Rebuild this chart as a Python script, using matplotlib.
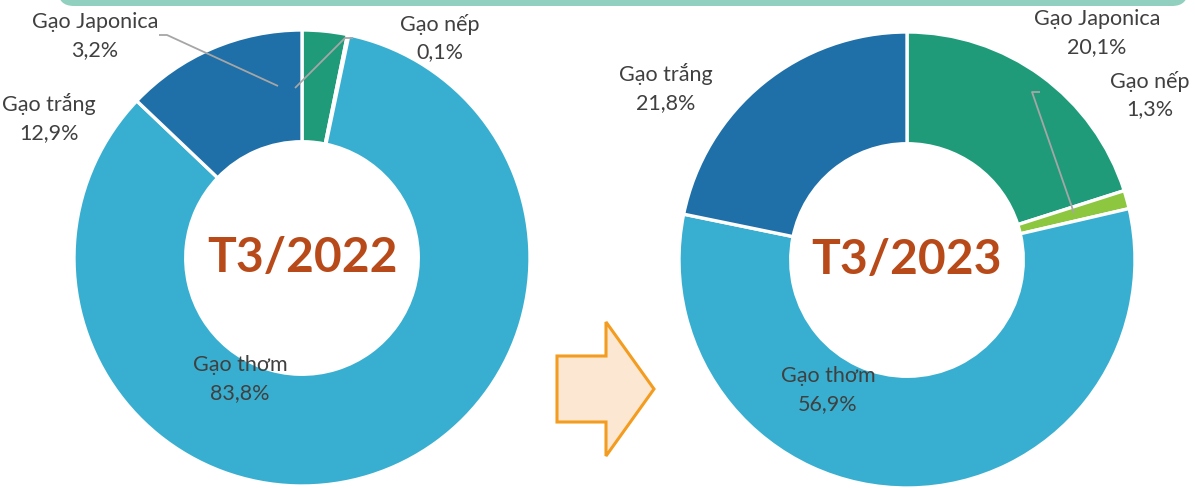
import matplotlib
matplotlib.use("Agg")
import matplotlib.pyplot as plt
from matplotlib.patches import FancyBboxPatch, Polygon

plt.rcParams['font.family'] = ['Lato', 'DejaVu Sans']

categories = ["Gạo Japonica", "Gạo nếp", "Gạo thơm", "Gạo trắng"]
values_2022 = [3.2, 0.1, 83.8, 12.9]
values_2023 = [20.1, 1.3, 56.9, 21.8]
labels_2022 = ["3,2%", "0,1%", "83,8%", "12,9%"]
labels_2023 = ["20,1%", "1,3%", "56,9%", "21,8%"]
titles = ["T3/2022", "T3/2023"]
colors = ["#1F9B7A", "#8DC63F", "#38AFD0", "#1F6FA8"]

W, H = 1195, 488
fig = plt.figure(figsize=(W / 100, H / 100), dpi=100)

# background axes in pixel coordinates
bg = fig.add_axes([0, 0, 1, 1])
bg.set_xlim(0, W)
bg.set_ylim(H, 0)
bg.axis('off')
bg.add_patch(FancyBboxPatch((58, -40), 1130, 46, boxstyle="round,pad=0,rounding_size=16",
                            facecolor="#91D0BE", edgecolor="none"))
arrow_pts = [(557, 356), (606, 356), (606, 322), (654, 389), (606, 456), (606, 422), (557, 422)]
bg.add_patch(Polygon(arrow_pts, closed=True, facecolor="#FCE8D2", edgecolor="#F39C1F", linewidth=2.2))

R = 228
text_color = "#404040"
annots = []


def donut(cx, cy, vals, pcts, title, label_pos, leaders):
    ax = fig.add_axes([(cx - R) / W, 1 - (cy + R) / H, 2 * R / W, 2 * R / H])
    wedges, _ = ax.pie(vals, colors=colors, startangle=90, counterclock=False, radius=1,
                       wedgeprops=dict(width=0.49, edgecolor="white", linewidth=2.4))
    for w in wedges:
        w.set_clip_on(False)
    ax.set_xlim(-1, 1)
    ax.set_ylim(-1, 1)
    ax.set_aspect('equal')
    ax.axis('off')
    ax.text(0, 0, title, ha='center', va='center', fontsize=34.5, fontweight='bold', color="#B84A1A")
    annots.append((pcts, label_pos, leaders))
    return ax


donut(302, 258, values_2022, labels_2022, titles[0],
      [(95, 36), (440, 38), (240, 379), (49, 118)],
      [[(159, 35), (167, 35), (278, 86)], [(353, 38), (345, 38), (295, 88)]])
donut(907, 260, values_2023, labels_2023, titles[1],
      [(1097, 33), (1150, 95), (828, 390), (666, 88)],
      [[(1040, 92), (1032, 92), (1074, 213)]])

top = fig.add_axes([0, 0, 1, 1], zorder=10)
top.set_xlim(0, W)
top.set_ylim(H, 0)
top.axis('off')
top.patch.set_alpha(0)
for pcts, label_pos, leaders in annots:
    for name, pct, (px, py) in zip(categories, pcts, label_pos):
        top.text(px, py, f"{name}\n{pct}", ha='center', va='center', fontsize=15.5,
                 color=text_color, linespacing=1.45)
    for pts in leaders:
        xs, ys = zip(*pts)
        top.plot(xs, ys, color="#A6A6A6", lw=1.3, solid_capstyle='butt')

fig.savefig("out.png", dpi=100)
